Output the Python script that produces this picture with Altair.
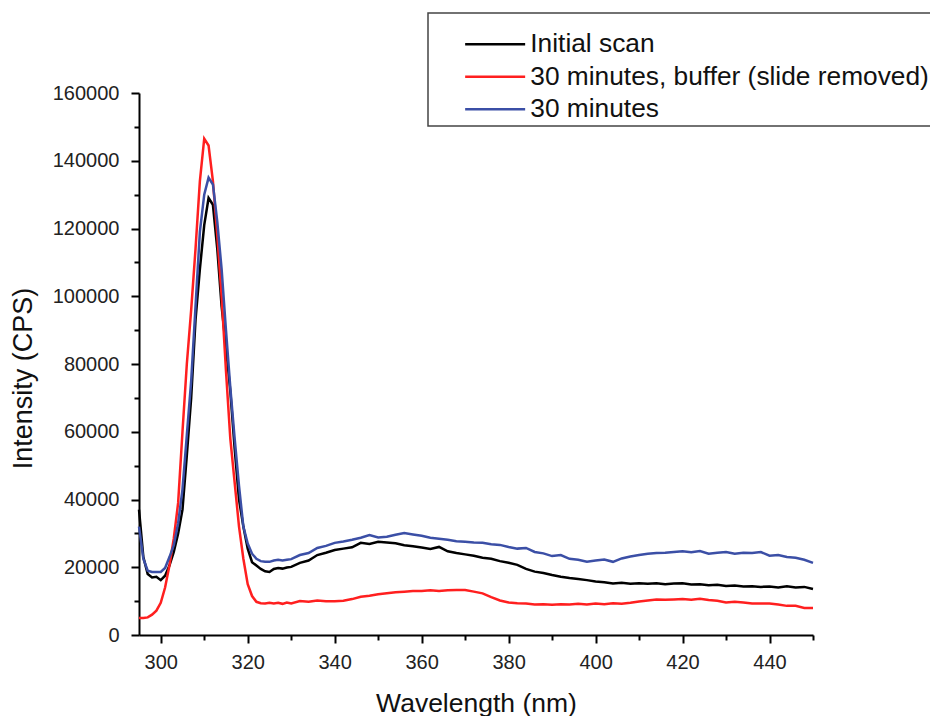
import altair as alt
import pandas as pd

# sampling grid (nm)
wavelength = list(range(295, 331)) + list(range(332, 451, 2))

series_names = ["Initial scan", "30 minutes, buffer (slide removed)", "30 minutes"]
series_colors = ["#000000", "#ff1f1f", "#3b4fa6"]

initial_scan = [
    37000, 23000, 18000, 17000, 17200, 16200, 17500, 20500, 24500, 30000,
    37000, 53000, 70000, 93000, 108000, 121000, 129000, 127000, 114000, 97000,
    85000, 72000, 55000, 40000, 32000, 25500, 21500, 20500, 19500, 18800,
    18600, 19500, 19800, 19600, 19900, 20100,
    21300, 22000, 23600, 24300, 25100, 25500, 25900, 27200, 26900, 27500,
    27300, 27100, 26500, 26200, 25800, 25400, 26000, 24700, 24200, 23800,
    23400, 22800, 22500, 21800, 21300, 20700, 19500, 18700, 18300, 17700,
    17200, 16800, 16500, 16200, 15800, 15600, 15200, 15400, 15100, 15300,
    15100, 15300, 15000, 15200, 15300, 14900, 15000, 14700, 14800, 14500,
    14600, 14300, 14400, 14200, 14300, 14000, 14400, 14000, 14200, 13600,
]

buffer_30 = [
    5000, 5000, 5200, 6000, 7200, 9500, 14000, 20500, 28500, 39000,
    60000, 80000, 96000, 114000, 134000, 146500, 144500, 134000, 118000, 100000,
    78000, 58000, 45000, 32000, 22500, 15000, 11500, 9800, 9400, 9300,
    9500, 9300, 9500, 9200, 9600, 9300,
    10000, 9800, 10200, 10000, 10000, 10100, 10600, 11300, 11600, 12000,
    12300, 12600, 12800, 13000, 13000, 13200, 13000, 13200, 13300, 13300,
    12800, 12300, 11200, 10200, 9600, 9400, 9300, 9000, 9100, 8900,
    9100, 9000, 9200, 9000, 9300, 9100, 9400, 9200, 9500, 9900,
    10200, 10500, 10400, 10500, 10600, 10400, 10700, 10300, 10100, 9600,
    9800, 9600, 9300, 9300, 9300, 9000, 8600, 8600, 8000, 8000,
]

minutes_30 = [
    32000, 22500, 19000, 18600, 18600, 18600, 19800, 23000, 26500, 33000,
    43000, 59000, 75000, 97000, 119000, 130000, 135000, 133000, 122000, 108000,
    90000, 73000, 58000, 44000, 32000, 27000, 24000, 22500, 21800, 21600,
    21600, 22000, 22200, 22000, 22200, 22400,
    23600, 24200, 25700, 26300, 27200, 27600, 28100, 28700, 29500, 28800,
    29000, 29600, 30100, 29700, 29300, 28700, 28400, 28100, 27700, 27500,
    27300, 27200, 26800, 26600, 26000, 25500, 25700, 24500, 24100, 23300,
    23600, 22500, 22200, 21600, 22000, 22300, 21600, 22600, 23200, 23600,
    24000, 24200, 24300, 24500, 24700, 24400, 24800, 24000, 24300, 24500,
    24000, 24300, 24200, 24500, 23400, 23600, 23000, 22800, 22200, 21300,
]

x_major = list(range(300, 441, 20))
x_minor = list(range(310, 451, 20))
y_major = list(range(0, 160001, 20000))
y_minor = list(range(10000, 150001, 20000))

rows = []
for name, vals in zip(series_names, [initial_scan, buffer_30, minutes_30]):
    for w, v in zip(wavelength, vals):
        rows.append({"Wavelength": w, "Intensity": v, "Series": name})
df = pd.DataFrame(rows)

x_scale = alt.Scale(domain=[295, 450], nice=False, zero=False)
y_scale = alt.Scale(domain=[0, 160000], nice=False)

lines = alt.Chart(df).mark_line(strokeWidth=2.5, interpolate="linear").encode(
    x=alt.X(
        "Wavelength:Q",
        scale=x_scale,
        axis=alt.Axis(
            orient="bottom",
            title="Wavelength (nm)",
            values=x_major,
            ticks=True,
            tickSize=8,
            tickWidth=2,
            tickColor="#000000",
            labelPadding=9,
            titleY=68,
            titleBaseline="middle",
            titleFontSize=26.5,
        ),
    ),
    y=alt.Y(
        "Intensity:Q",
        scale=y_scale,
        axis=alt.Axis(
            orient="left",
            title="Intensity (CPS)",
            values=y_major,
            format="d",
            ticks=True,
            tickSize=8,
            tickWidth=2,
            tickColor="#000000",
            labelPadding=12,
            titleX=-116,
            titleY=285,
            titleBaseline="middle",
            titleAlign="center",
            titleFontSize=27,
        ),
    ),
    color=alt.Color(
        "Series:N",
        scale=alt.Scale(domain=series_names, range=series_colors),
        sort=series_names,
        legend=alt.Legend(
            title=" ",
            titleFontSize=12,
            titlePadding=3,
            orient="none",
            legendX=289,
            legendY=-80,
            direction="vertical",
            symbolType="M-3,0H3",
            symbolSize=400,
            symbolStrokeWidth=2.5,
            symbolOffset=51,
            labelOffset=22,
            labelFontSize=26.3,
            labelColor="#111111",
            labelExpr="datum.label + '\u00a0\u00a0\u00a0\u00a0\u00a0\u00a0'",
            labelLimit=0,
            padding=3,
            strokeColor="#444444",
            fillColor="#ffffff",
        ),
    ),
)

minor = alt.Chart(df).mark_line(opacity=0).encode(
    x=alt.X(
        "Wavelength:Q",
        scale=x_scale,
        axis=alt.Axis(
            orient="bottom",
            title=None,
            values=x_minor,
            ticks=True,
            tickSize=5,
            tickWidth=2,
            tickColor="#000000",
            labels=False,
            domain=False,
        ),
    ),
    y=alt.Y(
        "Intensity:Q",
        scale=y_scale,
        axis=alt.Axis(
            orient="left",
            title=None,
            values=y_minor,
            ticks=True,
            tickSize=5,
            tickWidth=2,
            tickColor="#000000",
            labels=False,
            domain=False,
        ),
    ),
    detail="Series:N",
)

chart = alt.layer(lines, minor).resolve_axis(
    x="independent", y="independent"
).properties(
    width=674,
    height=542,
    autosize=alt.AutoSizeParams(type="none"),
    padding={"left": 139, "top": 93, "right": 117, "bottom": 81},
).configure(
    font="Liberation Sans",
).configure_view(
    stroke=None,
).configure_legend(
    strokeWidth=1.5,
    rowPadding=5.5,
).configure_axis(
    grid=False,
    domainColor="#000000",
    domainWidth=2,
    labelFontSize=20,
    labelColor="#222222",
    titleColor="#111111",
    titleFontWeight="normal",
)

chart.save("out.html", embed_options={"renderer": "svg", "actions": False})
